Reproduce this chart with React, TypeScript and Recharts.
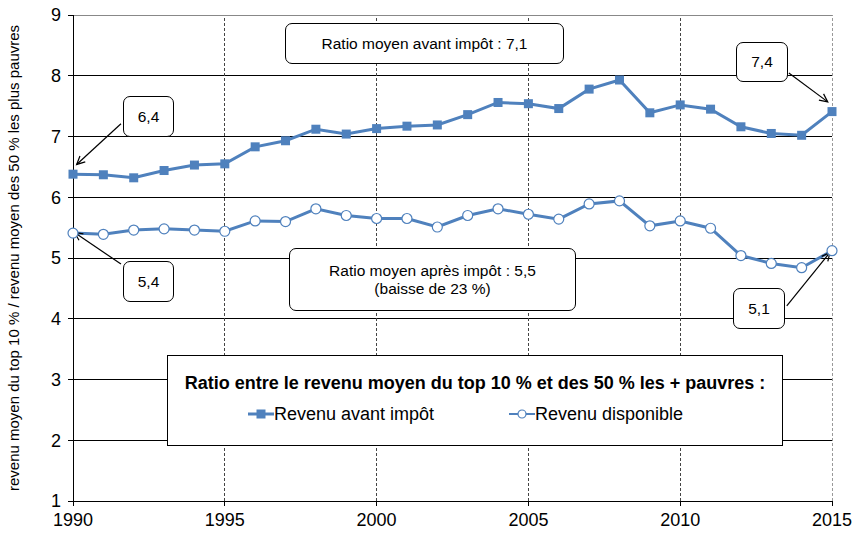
import React from 'react';
import { LineChart, Line, XAxis, YAxis, CartesianGrid, ReferenceLine } from 'recharts';

const years = [1990, 1991, 1992, 1993, 1994, 1995, 1996, 1997, 1998, 1999, 2000, 2001, 2002, 2003, 2004, 2005, 2006, 2007, 2008, 2009, 2010, 2011, 2012, 2013, 2014, 2015];
const avantImpot = [6.38, 6.37, 6.32, 6.44, 6.53, 6.55, 6.83, 6.93, 7.12, 7.04, 7.13, 7.17, 7.19, 7.36, 7.56, 7.54, 7.46, 7.78, 7.93, 7.39, 7.52, 7.45, 7.16, 7.05, 7.02, 7.41];
const disponible = [5.41, 5.39, 5.46, 5.48, 5.46, 5.44, 5.61, 5.60, 5.81, 5.70, 5.65, 5.65, 5.51, 5.70, 5.81, 5.72, 5.64, 5.89, 5.94, 5.53, 5.61, 5.49, 5.04, 4.91, 4.84, 5.12];
const xTicks = [1990, 1995, 2000, 2005, 2010, 2015];
const yTicks = [1, 2, 3, 4, 5, 6, 7, 8, 9];
const verticalGrid = [1995, 2000, 2005, 2010];

const data = years.map((y, i) => ({ year: y, avant: avantImpot[i], dispo: disponible[i] }));

const BLUE = '#4F81BD';
const FONT = '"Liberation Sans", Arial, sans-serif';

const SquareDot = (p: any) => {
  if (p.cx == null || p.cy == null) return <g key={p.index} />;
  return <rect key={p.index} x={p.cx - 4.5} y={p.cy - 4.5} width={9} height={9} fill={BLUE} />;
};
const CircleDot = (p: any) => {
  if (p.cx == null || p.cy == null) return <g key={p.index} />;
  return <circle key={p.index} cx={p.cx} cy={p.cy} r={5} fill="#fff" stroke={BLUE} strokeWidth={1.2} />;
};

const Arrow = (p: any) => {
  const { x1, y1, x2, y2 } = p;
  if ([x1, y1, x2, y2].some((v) => v == null || isNaN(v))) return <g />;
  const a = Math.atan2(y2 - y1, x2 - x1);
  const L = 9;
  const s = 0.45;
  const ax = x2 - L * Math.cos(a - s);
  const ay = y2 - L * Math.sin(a - s);
  const bx = x2 - L * Math.cos(a + s);
  const by = y2 - L * Math.sin(a + s);
  return (
    <g>
      <line x1={x1} y1={y1} x2={x2} y2={y2} stroke="#000" strokeWidth={1.2} />
      <polyline points={`${ax},${ay} ${x2},${y2} ${bx},${by}`} fill="none" stroke="#000" strokeWidth={1.2} />
    </g>
  );
};

const arrows = [
  { from: { x: 1991.58, y: 7.21 }, to: { x: 1990.12, y: 6.54 } },
  { from: { x: 1991.58, y: 4.9 }, to: { x: 1990.05, y: 5.42 } },
  { from: { x: 2013.58, y: 8.045 }, to: { x: 2014.86, y: 7.57 } },
  { from: { x: 2013.51, y: 4.21 }, to: { x: 2014.93, y: 5.09 } },
];

const boxStyle = (left: number, top: number, width: number, height: number): React.CSSProperties => ({
  position: 'absolute',
  left,
  top,
  width,
  height,
  boxSizing: 'border-box',
  border: '1.3px solid #000',
  borderRadius: 7,
  background: '#fff',
  display: 'flex',
  flexDirection: 'column',
  alignItems: 'center',
  justifyContent: 'center',
  fontFamily: FONT,
  fontSize: 15.5,
  lineHeight: '18px',
  color: '#000',
  textAlign: 'center',
});

export default function App() {
  return (
    <div style={{ position: 'absolute', left: 0, top: 0, width: 856, height: 533, background: '#fff' }}>
      <LineChart width={856} height={533} data={data} margin={{ top: 15, right: 24, bottom: 2, left: 0 }}>
        <CartesianGrid vertical={false} stroke="#000" strokeWidth={1} shapeRendering="crispEdges" />
        {verticalGrid.map((x) => (
          <ReferenceLine key={x} x={x} stroke="#444" strokeDasharray="3 2" strokeWidth={1} shapeRendering="crispEdges" />
        ))}
        <ReferenceLine x={2015} stroke="#999" strokeDasharray="3 2" strokeWidth={1} shapeRendering="crispEdges" />
        <ReferenceLine y={9} stroke="#888" strokeWidth={1} shapeRendering="crispEdges" />
        <XAxis
          dataKey="year"
          type="number"
          domain={[1990, 2015]}
          ticks={xTicks}
          height={30}
          tickSize={5}
          tickMargin={7}
          axisLine={{ stroke: '#000', shapeRendering: 'crispEdges' }}
          tickLine={{ stroke: '#000', shapeRendering: 'crispEdges' }}
          tick={{ fill: '#000', fontSize: 18, fontFamily: FONT }}
        />
        <YAxis
          type="number"
          domain={[1, 9]}
          ticks={yTicks}
          width={73}
          tickSize={5}
          tickMargin={7}
          axisLine={{ stroke: '#000', shapeRendering: 'crispEdges' }}
          tickLine={{ stroke: '#000', shapeRendering: 'crispEdges' }}
          tick={{ fill: '#000', fontSize: 18, fontFamily: FONT }}
          label={{
            value: 'revenu moyen du top 10 % / revenu moyen des 50 % les plus pauvres',
            angle: -90,
            position: 'insideLeft',
            offset: 14,
            style: { textAnchor: 'middle', fontSize: 15, fontFamily: FONT, fill: '#000' },
          }}
        />
        <Line
          dataKey="avant"
          name="Revenu avant impôt"
          stroke={BLUE}
          strokeWidth={3}
          dot={SquareDot}
          activeDot={false}
          isAnimationActive={false}
        />
        <Line
          dataKey="dispo"
          name="Revenu disponible"
          stroke={BLUE}
          strokeWidth={3}
          dot={CircleDot}
          activeDot={false}
          isAnimationActive={false}
        />
        {arrows.map((a, i) => (
          <ReferenceLine key={'a' + i} segment={[a.from, a.to]} ifOverflow="visible" shape={Arrow} />
        ))}
      </LineChart>

      <div style={boxStyle(285, 23, 279, 41)}>Ratio moyen avant impôt : 7,1</div>
      <div style={boxStyle(123, 96, 51, 41)}>6,4</div>
      <div style={boxStyle(123, 261, 51, 41)}>5,4</div>
      <div style={boxStyle(736, 42, 52, 40)}>7,4</div>
      <div style={boxStyle(733, 288, 52, 41)}>5,1</div>
      <div style={boxStyle(289, 248, 287, 63)}>
        <div>Ratio moyen après impôt : 5,5</div>
        <div>(baisse de 23 %)</div>
      </div>

      <div
        style={{
          position: 'absolute',
          left: 167,
          top: 355,
          width: 616,
          height: 91,
          boxSizing: 'border-box',
          border: '1.3px solid #000',
          background: '#fff',
          fontFamily: FONT,
          color: '#000',
        }}
      >
        <div style={{ position: 'absolute', left: 0, right: 0, top: 16, textAlign: 'center', fontWeight: 'bold', fontSize: 18, lineHeight: '22px' }}>
          Ratio entre le revenu moyen du top 10 % et des 50 % les + pauvres :
        </div>
        <div style={{ position: 'absolute', left: 80, top: 47, display: 'flex', alignItems: 'center', fontSize: 18, lineHeight: '22px' }}>
          <svg width={26} height={12}>
            <line x1={0} y1={6} x2={26} y2={6} stroke={BLUE} strokeWidth={3} />
            <rect x={8.5} y={1.5} width={9} height={9} fill={BLUE} />
          </svg>
          <span>Revenu avant impôt</span>
        </div>
        <div style={{ position: 'absolute', left: 341, top: 47, display: 'flex', alignItems: 'center', fontSize: 18, lineHeight: '22px' }}>
          <svg width={26} height={12}>
            <line x1={0} y1={6} x2={26} y2={6} stroke={BLUE} strokeWidth={2} />
            <circle cx={13} cy={6} r={4} fill="#fff" stroke={BLUE} strokeWidth={1.2} />
          </svg>
          <span>Revenu disponible</span>
        </div>
      </div>
    </div>
  );
}
